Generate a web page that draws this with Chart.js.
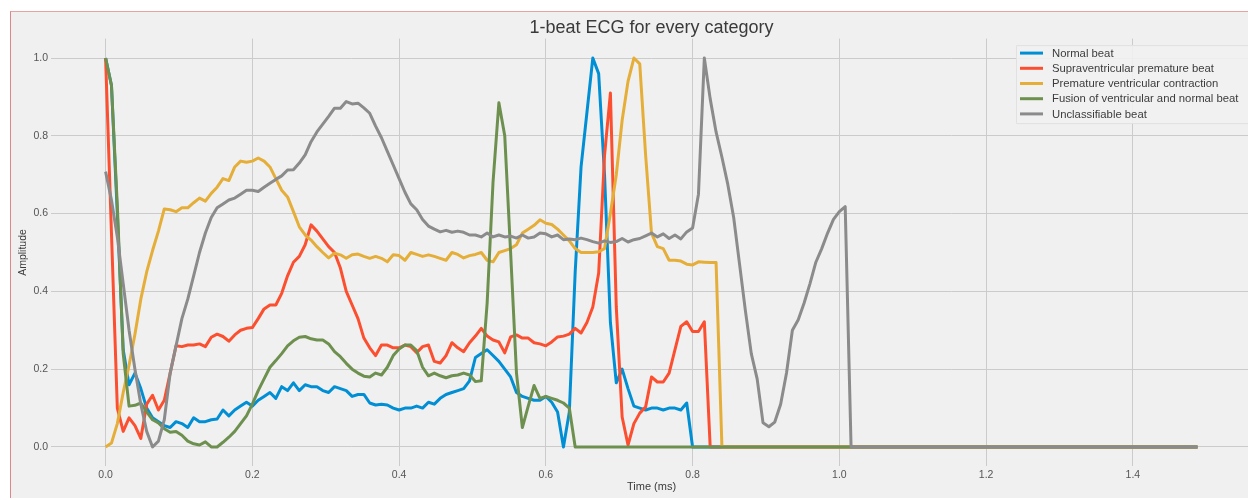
<!DOCTYPE html>
<html>
<head>
<meta charset="utf-8">
<script src="https://cdn.jsdelivr.net/npm/chart.js@4.4.0/dist/chart.umd.min.js"></script>
<style>
  html, body { margin: 0; padding: 0; background: #ffffff; width: 1248px; height: 500px; overflow: hidden; }
  #frame { position: absolute; left: 10px; top: 11px; width: 1238px; height: 486px;
           border-top: 1px solid #e7a2a2; border-left: 1px solid #df8686;
           background: #f0f0f0; overflow: hidden; }
  #c { position: absolute; left: 0; top: 0; }
</style>
</head>
<body>
<div id="frame"><canvas id="c" width="1245" height="485"></canvas></div>
<script>
// ---- data (187 samples per beat, 0.008 s sampling step) ----
const sampleStep = 0.008;
const seriesLabels = ['Normal beat', 'Supraventricular premature beat', 'Premature ventricular contraction',
                      'Fusion of ventricular and normal beat', 'Unclassifiable beat'];
const seriesColors = ['#008fd5', '#fc4f30', '#e5ae38', '#6d904f', '#8b8b8b'];

const normalBeat = [
  1.0, 0.93, 0.6, 0.25, 0.16, 0.19, 0.15, 0.1, 0.075, 0.065,
  0.055, 0.05, 0.065, 0.06, 0.05, 0.075, 0.065, 0.065, 0.07, 0.072,
  0.095, 0.08, 0.095, 0.105, 0.115, 0.105, 0.12, 0.13, 0.14, 0.125,
  0.155, 0.145, 0.165, 0.145, 0.16, 0.155, 0.155, 0.145, 0.14, 0.155,
  0.15, 0.145, 0.13, 0.135, 0.135, 0.113, 0.108, 0.11, 0.108, 0.1,
  0.095, 0.1, 0.1, 0.105, 0.1, 0.115, 0.11, 0.125, 0.135, 0.14,
  0.145, 0.15, 0.17, 0.23, 0.24, 0.25, 0.235, 0.22, 0.2, 0.18,
  0.14, 0.13, 0.125, 0.12, 0.12, 0.13, 0.115, 0.09, 0.0, 0.09,
  0.45, 0.72, 0.86, 1.0, 0.96, 0.7, 0.32, 0.165, 0.2, 0.15,
  0.105, 0.1, 0.095, 0.1, 0.1, 0.095, 0.1, 0.1, 0.095, 0.113,
  0, 0, 0, 0, 0, 0, 0, 0, 0, 0,
  0, 0, 0, 0, 0, 0, 0, 0, 0, 0,
  0, 0, 0, 0, 0, 0, 0, 0, 0, 0,
  0, 0, 0, 0, 0, 0, 0, 0, 0, 0,
  0, 0, 0, 0, 0, 0, 0, 0, 0, 0,
  0, 0, 0, 0, 0, 0, 0, 0, 0, 0,
  0, 0, 0, 0, 0, 0, 0, 0, 0, 0,
  0, 0, 0, 0, 0, 0, 0, 0, 0, 0,
  0, 0, 0, 0, 0, 0, 0
];

const supraventricularBeat = [
  1.0, 0.55, 0.1, 0.04, 0.075, 0.055, 0.022, 0.11, 0.133, 0.095,
  0.12, 0.19, 0.26, 0.258, 0.262, 0.262, 0.265, 0.258, 0.282, 0.29,
  0.284, 0.272, 0.288, 0.3, 0.305, 0.307, 0.33, 0.355, 0.365, 0.365,
  0.395, 0.44, 0.475, 0.49, 0.52, 0.571, 0.555, 0.535, 0.515, 0.5,
  0.46, 0.4, 0.365, 0.33, 0.28, 0.255, 0.235, 0.262, 0.262, 0.255,
  0.255, 0.262, 0.258, 0.242, 0.258, 0.262, 0.22, 0.216, 0.235, 0.268,
  0.255, 0.245, 0.268, 0.285, 0.305, 0.285, 0.275, 0.27, 0.242, 0.283,
  0.288, 0.28, 0.28, 0.268, 0.265, 0.26, 0.27, 0.283, 0.285, 0.29,
  0.305, 0.293, 0.32, 0.36, 0.447, 0.75, 0.91, 0.36, 0.077, 0.005,
  0.06, 0.087, 0.103, 0.18, 0.167, 0.167, 0.19, 0.25, 0.31, 0.322,
  0.297, 0.297, 0.322, 0, 0, 0, 0, 0, 0, 0,
  0, 0, 0, 0, 0, 0, 0, 0, 0, 0,
  0, 0, 0, 0, 0, 0, 0, 0, 0, 0,
  0, 0, 0, 0, 0, 0, 0, 0, 0, 0,
  0, 0, 0, 0, 0, 0, 0, 0, 0, 0,
  0, 0, 0, 0, 0, 0, 0, 0, 0, 0,
  0, 0, 0, 0, 0, 0, 0, 0, 0, 0,
  0, 0, 0, 0, 0, 0, 0, 0, 0, 0,
  0, 0, 0, 0, 0, 0, 0
];

const ventricularBeat = [
  0.0, 0.01, 0.06, 0.14, 0.21, 0.29, 0.38, 0.45, 0.505, 0.555,
  0.612, 0.61, 0.605, 0.615, 0.615, 0.628, 0.64, 0.632, 0.652, 0.668,
  0.69, 0.685, 0.72, 0.735, 0.732, 0.735, 0.743, 0.735, 0.72, 0.69,
  0.66, 0.643, 0.605, 0.566, 0.545, 0.532, 0.515, 0.5, 0.486, 0.498,
  0.494, 0.485, 0.494, 0.496, 0.49, 0.485, 0.49, 0.485, 0.476, 0.494,
  0.492, 0.48, 0.5, 0.495, 0.49, 0.494, 0.49, 0.485, 0.48, 0.5,
  0.495, 0.486, 0.492, 0.495, 0.5, 0.48, 0.476, 0.5, 0.505, 0.51,
  0.52, 0.55, 0.56, 0.57, 0.584, 0.575, 0.572, 0.56, 0.545, 0.53,
  0.51, 0.5, 0.5, 0.5, 0.502, 0.51, 0.6, 0.7, 0.84, 0.94,
  1.0, 0.985, 0.75, 0.55, 0.515, 0.51, 0.48, 0.48, 0.478, 0.47,
  0.468, 0.476, 0.475, 0.474, 0.474, 0, 0, 0, 0, 0,
  0, 0, 0, 0, 0, 0, 0, 0, 0, 0,
  0, 0, 0, 0, 0, 0, 0, 0, 0, 0,
  0, 0, 0, 0, 0, 0, 0, 0, 0, 0,
  0, 0, 0, 0, 0, 0, 0, 0, 0, 0,
  0, 0, 0, 0, 0, 0, 0, 0, 0, 0,
  0, 0, 0, 0, 0, 0, 0, 0, 0, 0,
  0, 0, 0, 0, 0, 0, 0, 0, 0, 0,
  0, 0, 0, 0, 0, 0, 0
];

const fusionBeat = [
  1.0, 0.93, 0.62, 0.24, 0.105, 0.107, 0.113, 0.09, 0.07, 0.062,
  0.047, 0.038, 0.04, 0.03, 0.015, 0.008, 0.005, 0.013, 0.0, 0.0,
  0.012, 0.025, 0.04, 0.06, 0.08, 0.11, 0.145, 0.175, 0.205, 0.222,
  0.24, 0.26, 0.273, 0.282, 0.284, 0.278, 0.275, 0.275, 0.265, 0.245,
  0.232, 0.215, 0.2, 0.19, 0.182, 0.18, 0.19, 0.185, 0.205, 0.235,
  0.252, 0.262, 0.262, 0.248, 0.205, 0.183, 0.19, 0.183, 0.178, 0.183,
  0.185, 0.19, 0.185, 0.168, 0.17, 0.37, 0.68, 0.885, 0.8, 0.5,
  0.19, 0.05, 0.105, 0.158, 0.125, 0.13, 0.125, 0.12, 0.113, 0.1,
  0, 0, 0, 0, 0, 0, 0, 0, 0, 0,
  0, 0, 0, 0, 0, 0, 0, 0, 0, 0,
  0, 0, 0, 0, 0, 0, 0, 0, 0, 0,
  0, 0, 0, 0, 0, 0, 0, 0, 0, 0,
  0, 0, 0, 0, 0, 0, 0, 0, 0, 0,
  0, 0, 0, 0, 0, 0, 0, 0, 0, 0,
  0, 0, 0, 0, 0, 0, 0, 0, 0, 0,
  0, 0, 0, 0, 0, 0, 0, 0, 0, 0,
  0, 0, 0, 0, 0, 0, 0, 0, 0, 0,
  0, 0, 0, 0, 0, 0, 0, 0, 0, 0,
  0, 0, 0, 0, 0, 0, 0
];

const unclassifiableBeat = [
  0.708, 0.635, 0.54, 0.42, 0.3, 0.2, 0.11, 0.04, 0.0, 0.015,
  0.07, 0.19, 0.26, 0.33, 0.38, 0.44, 0.5, 0.55, 0.59, 0.615,
  0.625, 0.635, 0.64, 0.65, 0.66, 0.66, 0.657, 0.668, 0.678, 0.688,
  0.697, 0.712, 0.713, 0.73, 0.751, 0.785, 0.81, 0.83, 0.85, 0.871,
  0.871, 0.888, 0.882, 0.884, 0.872, 0.858, 0.825, 0.795, 0.76, 0.725,
  0.69, 0.655, 0.625, 0.61, 0.585, 0.568, 0.56, 0.553, 0.557, 0.552,
  0.555, 0.552, 0.545, 0.545, 0.54, 0.55, 0.54, 0.545, 0.54, 0.542,
  0.537, 0.545, 0.537, 0.54, 0.55, 0.548, 0.54, 0.545, 0.533, 0.535,
  0.533, 0.537, 0.533, 0.528, 0.524, 0.53, 0.526, 0.528, 0.536, 0.527,
  0.533, 0.536, 0.543, 0.55, 0.54, 0.548, 0.536, 0.545, 0.535, 0.553,
  0.563, 0.65, 1.0, 0.895, 0.81, 0.745, 0.675, 0.59, 0.47, 0.35,
  0.24, 0.175, 0.062, 0.052, 0.064, 0.11, 0.19, 0.3, 0.327, 0.37,
  0.42, 0.475, 0.51, 0.55, 0.585, 0.605, 0.618, 0, 0, 0,
  0, 0, 0, 0, 0, 0, 0, 0, 0, 0,
  0, 0, 0, 0, 0, 0, 0, 0, 0, 0,
  0, 0, 0, 0, 0, 0, 0, 0, 0, 0,
  0, 0, 0, 0, 0, 0, 0, 0, 0, 0,
  0, 0, 0, 0, 0, 0, 0, 0, 0, 0,
  0, 0, 0, 0, 0, 0, 0
];

const xTickValues = [0.0, 0.2, 0.4, 0.6, 0.8, 1.0, 1.2, 1.4];
const yTickValues = [0.0, 0.2, 0.4, 0.6, 0.8, 1.0];

// ---- build chart ----
const allSeries = [normalBeat, supraventricularBeat, ventricularBeat, fusionBeat, unclassifiableBeat];
const FONT = "'Liberation Sans', Arial, Helvetica, sans-serif";

const datasets = allSeries.map((vals, k) => ({
  label: seriesLabels[k],
  data: vals.map((v, i) => ({ x: i * sampleStep, y: v })),
  borderColor: seriesColors[k],
  backgroundColor: seriesColors[k],
  borderWidth: 3,
  pointRadius: 0,
  tension: 0,
  borderJoinStyle: 'round',
  fill: false,
  order: allSeries.length - k   // later series drawn on top
}));

const legendPlugin = {
  id: 'boxLegend',
  afterDraw(chart) {
    const ctx = chart.ctx;
    const ca = chart.chartArea;
    const right = ca.right - 4, left = right - 232, top = ca.top + 6.5, bottom = top + 78;
    ctx.save();
    ctx.fillStyle = 'rgba(241,241,241,0.9)';
    ctx.strokeStyle = '#e1e1e1';
    ctx.lineWidth = 1;
    ctx.beginPath();
    ctx.rect(left + 0.5, top + 0.5, right - left, bottom - top);
    ctx.fill();
    ctx.stroke();
    ctx.font = '11.3px ' + FONT;
    ctx.textBaseline = 'middle';
    ctx.textAlign = 'left';
    chart.data.datasets.forEach((ds, k) => {
      const y = top + 8 + k * 15.2;
      ctx.strokeStyle = ds.borderColor;
      ctx.lineWidth = 3;
      ctx.beginPath();
      ctx.moveTo(left + 4, y);
      ctx.lineTo(left + 27, y);
      ctx.stroke();
      ctx.fillStyle = '#3c3c3c';
      ctx.fillText(ds.label, left + 36, y + 0.5);
    });
    ctx.restore();
  }
};

new Chart(document.getElementById('c'), {
  type: 'line',
  data: { datasets },
  plugins: [legendPlugin],
  options: {
    responsive: false,
    animation: false,
    devicePixelRatio: 1,
    layout: { padding: { left: 0, right: 4, top: 0, bottom: 0 } },
    plugins: {
      legend: { display: false },
      tooltip: { enabled: false },
      title: {
        display: true,
        text: '1-beat ECG for every category',
        color: '#3a3a3a',
        font: { family: FONT, size: 18, weight: 'normal' },
        padding: { top: 5, bottom: 0 },
        fullSize: false
      }
    },
    scales: {
      x: {
        type: 'linear',
        min: -0.0744,
        max: 1.5624,
        afterBuildTicks(axis) { axis.ticks = xTickValues.map(v => ({ value: v })); },
        afterFit(axis) { axis.height = 30.6; },
        ticks: {
          callback: v => Number(v).toFixed(1),
          color: '#555555',
          font: { family: FONT, size: 10.5 },
          padding: 2,
          maxRotation: 0,
          autoSkip: false
        },
        grid: { color: '#cbcbcb', lineWidth: 1, drawTicks: false },
        border: { display: false },
        title: {
          display: true,
          text: 'Time (ms)',
          color: '#3a3a3a',
          font: { family: FONT, size: 11 },
          padding: { top: 0, bottom: 3.5 }
        }
      },
      y: {
        type: 'linear',
        min: -0.05,
        max: 1.05,
        afterBuildTicks(axis) { axis.ticks = yTickValues.map(v => ({ value: v })); },
        afterFit(axis) { axis.width = 40; },
        ticks: {
          callback: v => Number(v).toFixed(1),
          color: '#555555',
          font: { family: FONT, size: 10.5 },
          padding: 3
        },
        grid: { color: '#cbcbcb', lineWidth: 1, drawTicks: false },
        border: { display: false },
        title: {
          display: true,
          text: 'Amplitude',
          color: '#3a3a3a',
          font: { family: FONT, size: 10.5 },
          padding: { top: 5.5, bottom: 0 }
        }
      }
    }
  }
});
</script>
</body>
</html>
